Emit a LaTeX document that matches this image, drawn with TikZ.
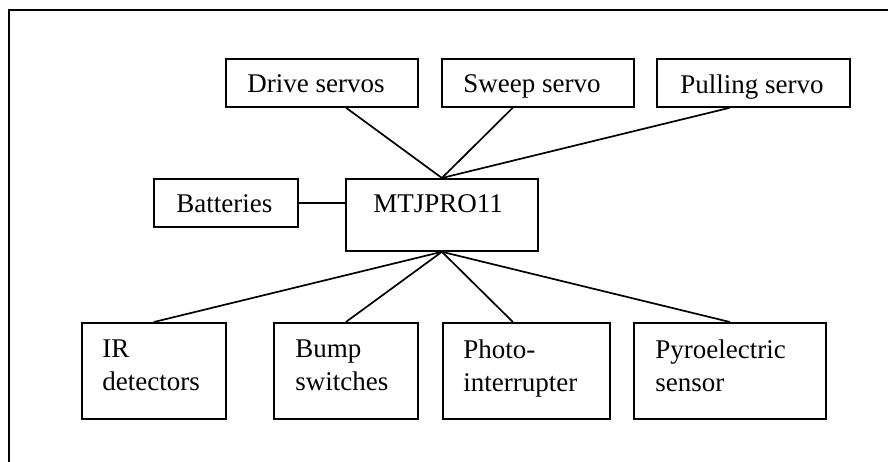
\documentclass[tikz,border=0pt]{standalone}
\usepackage{fontspec}
\setmainfont{Liberation Serif}
\usetikzlibrary{calc}
\begin{document}
\begin{tikzpicture}[x=0.5pt,y=-0.5pt,
  box/.style={draw,line width=0.9pt,rectangle,inner sep=0pt,anchor=north west},
  lbl/.style={inner sep=0pt,anchor=north west,align=left,font=\fontsize{13.5}{16.5}\selectfont},
  wire/.style={line width=0.85pt}]
\useasboundingbox (0,0) rectangle (888,461);
\begin{scope}
  \clip (0,0) rectangle (888,461);
  \draw[line width=0.9pt] (9,10) rectangle (940,520);
\end{scope}
% boxes
\node[box,minimum width=96pt,minimum height=24pt] (drive) at (225,58) {};
\node[box,minimum width=96pt,minimum height=24pt] (sweep) at (441,58) {};
\node[box,minimum width=96.5pt,minimum height=24pt] (pull) at (656,58) {};
\node[box,minimum width=72pt,minimum height=24pt] (batt) at (153,178) {};
\node[box,minimum width=96pt,minimum height=36pt] (mtj) at (345,178) {};
\node[box,minimum width=72pt,minimum height=48pt] (ir) at (81,322) {};
\node[box,minimum width=72pt,minimum height=48pt] (bump) at (273,322) {};
\node[box,minimum width=83.5pt,minimum height=48pt] (photo) at (442,322) {};
\node[box,minimum width=96pt,minimum height=48pt] (pyro) at (633,322) {};
% labels
\node[lbl] (tdrive) at ([shift={(22,16)}]drive.north west) {Drive servos};
\node[lbl] (tsweep) at ([shift={(22,16)}]sweep.north west) {Sweep servo};
\node[lbl] (tpull) at ([shift={(24,16)}]pull.north west) {Pulling servo};
\node[lbl] (tbatt) at ([shift={(23,16)}]batt.north west) {Batteries};
\node[lbl] (tmtj) at ([shift={(28,16)}]mtj.north west) {MTJPRO11};
\node[lbl] (tir) at ([shift={(21,17)}]ir.north west) {IR\\detectors};
\node[lbl] (tbump) at ([shift={(22,17)}]bump.north west) {Bump\\switches};
\node[lbl] (tphoto) at ([shift={(21,17)}]photo.north west) {Photo-\\interrupter};
\node[lbl] (tpyro) at ([shift={(22,17)}]pyro.north west) {Pyroelectric\\sensor};
% connectors
\coordinate (cdrive) at ($(drive.south west)!0.625!(drive.south east)$);
\coordinate (csweep) at ($(sweep.south west)!0.37!(sweep.south east)$);
\coordinate (cpull) at ($(pull.south west)!0.378!(pull.south east)$);
\coordinate (cphoto) at ($(photo.north west)!0.42!(photo.north east)$);
\draw[wire] (cdrive) -- (mtj.north);
\draw[wire] (csweep) -- (mtj.north);
\draw[wire] (cpull) -- (mtj.north);
\draw[wire] (batt.east) -- (batt.east -| mtj.west);
\draw[wire] (mtj.south) -- (ir.north);
\draw[wire] (mtj.south) -- (bump.north);
\draw[wire] (mtj.south) -- (cphoto);
\draw[wire] (mtj.south) -- (pyro.north);
\end{tikzpicture}
\end{document}
